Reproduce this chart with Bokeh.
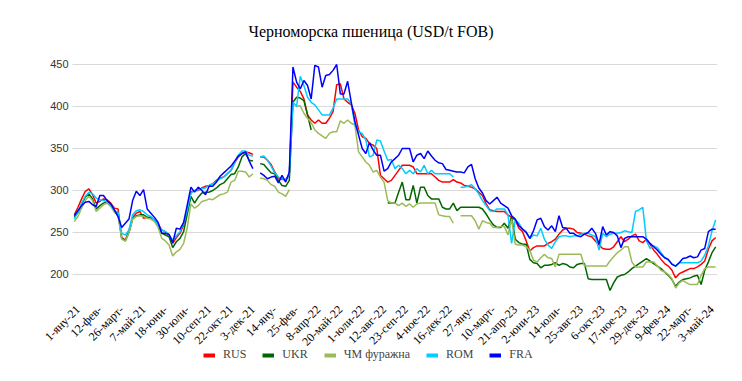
import math
import numpy as np
from bokeh.plotting import figure
from bokeh.models import Range1d, FixedTicker, Legend, LegendItem, ColumnDataSource
from bokeh.core.properties import value
from bokeh.embed import file_html
from bokeh.resources import INLINE

nan = float("nan")

# weekly observations, Fridays from 1 Jan 2021 (index 0) to 17 May 2024 (index 176)
weeks = list(range(177))
tick_weeks = list(range(0, 175, 6))
tick_labels = ["1-яну-21", "12-фев-", "26-март-", "7-май-21", "18-юни-", "30-юли-",
               "10-сеп-21", "22-окт-21", "3-дек-21", "14-яну-", "25-фев-", "8-апр-22",
               "20-май-22", "1-юли-22", "12-авг-22", "23-сеп-22", "4-ное-22", "16-дек-22",
               "27-яну-", "10-март-", "21-апр-23", "2-юни-23", "14-юли-", "25-авг-23",
               "6-окт-23", "17-ное-23", "29-дек-23", "9-фев-24", "22-март-", "3-май-24"]
y_ticks = [200, 250, 300, 350, 400, 450]

rus = [271, 280, 290, 299, 302, 295, 285, 287, 290, 289,
       285, 279, 278, 244, 241, 252, 268, 273, 275, 267,
       268, 268, 265, 260, 253, 251, 246, 237, 244, 249,
       259, 277, 298, 300, 300, 303, 305, 306, 308, 312,
       315, 316, 320, 324, 333, 340, 344, 346, 345, 343,
       nan, 340, 340, 336, 331, 322, 315, 313, 313, 318,
       429, 423, 418, 409, 390, 384, 380, 384, 380, 380,
       386, 394, 426, 427, 409, 405, 402, 392, 372, 364,
       362, 356, 354, 350, 318, 314, 310, 312, 318, 324,
       330, 330, 330, 328, 320, 320, 320, 320, 320, 316,
       312, 310, 310, 310, 313, 310, 309, 306, 305, 304,
       302, 298, 294, 284, 277, 276, 275, 275, 275, 271,
       268, 265, 255, 251, 240, 228, 232, 234, 234, 234,
       237, 239, 242, 248, 253, 255, 255, 254, 250, 249,
       248, 246, 245, 240, 235, 231, 230, 230, 233, 239,
       245, 239, 242, 246, 248, 240, 238, 242, 236, 229,
       224, 218, 213, 210, 205, 196, 201, 203, 205, 207,
       207, 209, 212, 216, 230, 240, 244]

ukr = [268, 274, 283, 292, 296, 290, 278, 282, 285, 287,
       283, 276, 273, 243, 240, 250, 266, 270, 271, 271,
       268, 268, 265, 260, 249, 247, 245, 232, 239, 243,
       251, 272, 293, 285, 292, 297, 298, 298, 300, 303,
       307, 309, 314, 319, 320, 328, 340, 344, 336, 335,
       nan, 332, 331, 326, 321, 320, 312, 306, 305, 312,
       405, 411, 410, 407, 390, 372, nan, nan, nan, nan,
       nan, nan, nan, nan, nan, nan, nan, nan, nan, nan,
       nan, nan, nan, nan, nan, nan, 285, 285, 285, 298,
       310, 289, 289, 306, 285, 304, 304, 294, 290, 290,
       290, 280, 278, 278, 285, 276, 280, 280, 280, 280,
       280, 280, 278, 272, 265, 259, 256, 256, 261, 255,
       269, 242, 238, 236, 236, 218, 214, 213, 208, 211,
       211, 212, 214, 211, 213, 212, 209, 208, 212, 213,
       213, 195, 194, 194, 194, 194, 194, 181, 190, 197,
       199, 200, 203, 207, 210, 213, 216, 219, 216, 213,
       210, 207, 203, 199, 194, 186, 191, 194, 195, 196,
       198, 199, 188, 205, 215, 226, 233]

feed = [263, 269, 279, 288, 293, 288, 275, 279, 283, 285,
        281, 274, 270, 242, 240, 250, 266, 269, 270, 269,
        267, 266, 263, 256, 243, 240, 235, 222, 227, 230,
        237, 256, 284, 279, 282, 287, 288, 290, 289, 292,
        295, 296, 298, 310, 312, 323, 323, 322, 316, 320,
        nan, 315, 314, 312, 307, 305, 298, 296, 293, 301,
        nan, 400, 401, 392, 386, 381, 372, 368, 365, 362,
        368, 370, 370, 383, 380, 384, 380, 378, 346, 340,
        334, 330, 322, 324, 316, 310, 288, 285, 285, 282,
        285, 281, 284, 280, 284, 285, 285, 285, 285, 285,
        271, 270, 269, 269, 261, nan, 270, 270, 270, 270,
        264, 254, 264, 262, 261, 256, 256, 257, 257, 247,
        266, 236, 235, 235, 233, 229, 217, 215, 220, 224,
        220, 219, 209, 224, 224, 224, 224, 224, 224, 224,
        210, 210, 210, 210, 210, 210, 210, 216, 221, 226,
        229, 233, 233, 215, 209, 209, 209, 215, 215, 215,
        210, 205, 203, 200, 195, 184, 190, 193, 190, 188,
        188, 188, 199, 207, 209, 209, 209]

rom = [266, 275, 285, 293, 298, 296, 291, 289, 288, 287,
       282, 276, 274, 249, 247, 253, 271, 276, 277, 275,
       271, 269, 265, 259, 253, 251, 247, 241, 246, 251,
       261, 277, 297, 300, 301, 302, 303, 306, 308, 311,
       314, 316, 320, 324, 333, 342, 347, 347, 342, 341,
       nan, 340, 341, 336, 329, 321, 316, 314, 312, 320,
       405, 400, 436, 425, 411, 405, 402, 396, 390, 390,
       390, 398, 409, 409, 409, 409, 403, 378, 370, 368,
       360, 340, 342, 360, 359, 347, 336, 337, 326, 330,
       326, 320, 324, 320, 326, 322, 330, 320, 324, 320,
       320, 320, 320, 320, 316, nan, 304, 304, 305, 307,
       302, 296, 288, 282, 276, 275, 278, 278, 278, 271,
       237, 265, 261, 254, 251, 243, 247, 246, 255, 242,
       235, 231, 239, 245, 246, 246, 245, 246, 246, 248,
       249, 249, 247, 245, 229, 249, 245, 248, 249, 249,
       250, 252, 251, 250, 275, 277, 280, 240, 231, 234,
       232, 226, 220, 217, 213, 210, 214, 214, 214, 214,
       214, 214, 216, 223, 234, 252, 265]

fra = [270, 276, 282, 286, 287, 283, 281, 294, 294, 288,
       284, 277, 269, 256, 261, 266, 288, 299, 294, 301,
       278, 273, 268, 262, 249, 249, 248, 238, 255, 254,
       262, 283, 304, 298, 304, 300, 295, 305, 305, 310,
       317, 321, 325, 329, 335, 341, 344, 346, 335, 326,
       nan, 321, 318, 314, 316, 317, 309, 318, 310, 322,
       447, 429, 421, 431, 425, 409, 449, 447, 423, 437,
       438, 443, 450, 415, 415, 430, 405, 382, 366, 350,
       344, 357, 348, 342, 342, 323, 326, 334, 338, 342,
       350, 350, 350, 334, 342, 344, 338, 347, 341, 336,
       333, 332, 325, 324, 323, 322, 322, 321, 328, 331,
       314, 303, 297, 288, 284, 288, 292, 285, 282, 279,
       270, 266, 258, 254, 250, 243, 252, 265, 267, 257,
       253, 258, 251, 270, 256, 255, 249, 249, 246, 245,
       248, 250, 255, 249, 236, 257, 247, 251, 250, 246,
       232, 243, 245, 245, 245, 245, 245, 242, 237, 233,
       229, 224, 220, 218, 212, 210, 214, 219, 220, 222,
       220, 221, 229, 231, 251, 254, 254]

series_names = ["RUS", "UKR", "ЧМ фуражна", "ROM", "FRA"]
series_colors = ["#FF0000", "#006600", "#9BBB59", "#00CCFF", "#0000FF"]

source = ColumnDataSource(data=dict(
    week=np.array(weeks, dtype=float),
    RUS=np.array(rus, dtype=float),
    UKR=np.array(ukr, dtype=float),
    FEED=np.array(feed, dtype=float),
    ROM=np.array(rom, dtype=float),
    FRA=np.array(fra, dtype=float),
))
columns = ["RUS", "UKR", "FEED", "ROM", "FRA"]

# The plotting frame is larger than the value area (weeks -0.5..176.5, 180..450)
# so that the rotated date labels and the legend can sit under the lines.
p = figure(frame_width=677, frame_height=325,
           min_border_left=40, min_border_right=25,
           min_border_top=54, min_border_bottom=2,
           x_range=Range1d(-9.28, 176.5), y_range=Range1d(75, 461.9),
           x_axis_location=None,
           output_backend="svg", toolbar_location=None,
           title="Черноморска пшеница (USD/t FOB)")

p.outline_line_color = None
p.background_fill_color = "white"
p.border_fill_color = "white"

p.title.align = "left"
p.title.offset = 208
p.title.vertical_align = "top"
p.title.standoff = 26
p.title.text_font = "Liberation Serif"
p.title.text_font_size = "16px"
p.title.text_font_style = "normal"
p.title.text_color = "#000000"

p.yaxis.ticker = FixedTicker(ticks=y_ticks)
p.yaxis.fixed_location = -0.5
p.yaxis.axis_line_color = None
p.yaxis.major_tick_line_color = None
p.yaxis.minor_tick_line_color = None
p.yaxis.major_tick_out = 0
p.yaxis.major_tick_in = 0
p.yaxis.minor_tick_out = 0
p.yaxis.major_label_text_font = "Liberation Sans"
p.yaxis.major_label_text_font_size = "11px"
p.yaxis.major_label_text_color = "#333333"
p.yaxis.major_label_standoff = 4

# horizontal gridlines only across the value area (weeks -0.5 .. 176.5)
p.xgrid.visible = False
p.ygrid.visible = False
p.segment(x0=[-0.5] * len(y_ticks), x1=[176.5] * len(y_ticks),
          y0=y_ticks, y1=y_ticks, line_color="#d9d9d9", line_width=1)

# category (date) labels, rotated 45 degrees under the value area
label_y = 160.7
label_src = ColumnDataSource(data=dict(
    x=[w + 1 for w in tick_weeks],
    y=[label_y] * len(tick_weeks),
    text=tick_labels,
))
p.text(x="x", y="y", text="text", source=label_src, angle=math.pi / 4,
       text_align="right", text_baseline="middle",
       text_font=value("Liberation Serif"), text_font_size="12px",
       text_color="#000000")

items = []
for col, name, color in zip(columns, series_names, series_colors):
    p.line(x="week", y=col, source=source, line_color=color, line_width=1.5)
    # legend key with the thicker swatch used in the original chart
    key = p.line(x=[0.0], y=[nan], line_color=color, line_width=4)
    items.append(LegendItem(label=name, renderers=[key]))

legend = Legend(items=items, orientation="horizontal", location=(163, 17),
                glyph_width=12, glyph_height=10, label_height=12,
                label_standoff=8, spacing=16,
                border_line_color=None, background_fill_alpha=0,
                label_text_font="Liberation Serif", label_text_font_size="12px",
                padding=0, margin=0)
p.add_layout(legend, "center")

open("out.html", "w").write(file_html(p, INLINE))
